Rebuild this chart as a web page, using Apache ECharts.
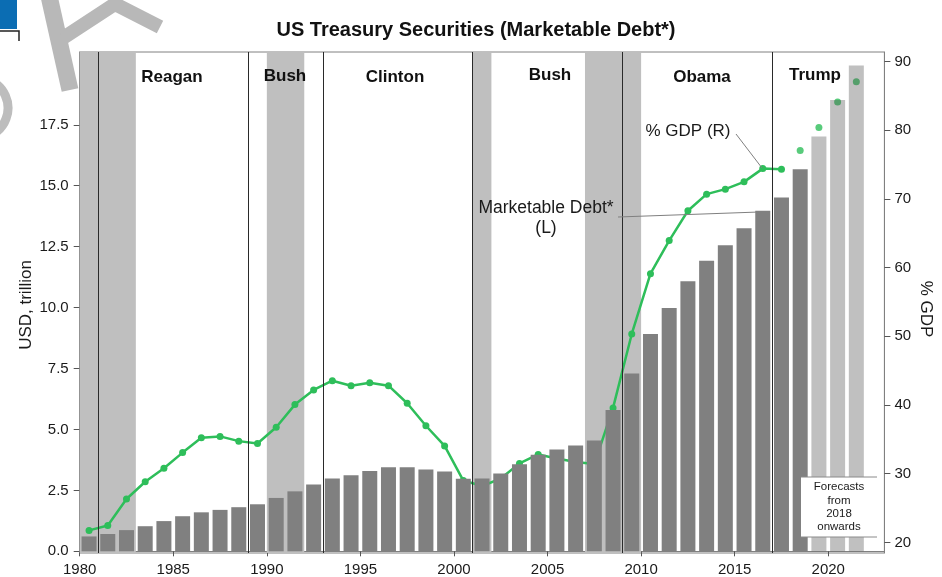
<!DOCTYPE html>
<html>
<head>
<meta charset="utf-8">
<script src="https://cdn.jsdelivr.net/npm/echarts@6/dist/echarts.min.js"></script>
<style>
html,body{margin:0;padding:0;background:#fff;}
#chart{width:942px;height:577px;}
</style>
</head>
<body>
<div id="chart"></div>
<script>
// ---- data ----
const years = [1980,1981,1982,1983,1984,1985,1986,1987,1988,1989,
  1990,1991,1992,1993,1994,1995,1996,1997,1998,1999,
  2000,2001,2002,2003,2004,2005,2006,2007,2008,2009,
  2010,2011,2012,2013,2014,2015,2016,2017,2018,2019,2020,2021];
// Marketable debt, USD trillion (left axis)
const debt = [0.61,0.71,0.87,1.03,1.24,1.44,1.60,1.70,1.81,1.93,
  2.19,2.46,2.74,2.99,3.12,3.30,3.45,3.45,3.36,3.27,
  2.98,2.99,3.19,3.57,3.96,4.18,4.34,4.55,5.80,7.30,
  8.92,9.98,11.08,11.92,12.56,13.25,13.97,14.52,15.67,17.02,18.52,19.93];
const firstForecastBarYear = 2019;
// % GDP (right axis), actual 1980-2017
const pctYears = [1980,1981,1982,1983,1984,1985,1986,1987,1988,1989,
  1990,1991,1992,1993,1994,1995,1996,1997,1998,1999,
  2000,2001,2002,2003,2004,2005,2006,2007,2008,2009,
  2010,2011,2012,2013,2014,2015,2016,2017];
const pctGdp = [21.74,22.46,26.31,28.83,30.80,33.07,35.24,35.43,34.74,34.40,
  36.76,40.06,42.19,43.54,42.81,43.25,42.81,40.26,36.98,34.04,
  29.0,28.2,29.3,31.5,32.8,32.2,31.7,31.4,39.58,50.34,
  59.12,63.94,68.29,70.70,71.43,72.49,74.42,74.32];
// % GDP forecasts
const fcYears = [2018,2019,2020,2021];
const fcPct = [77.07,80.40,84.12,87.06];
// shaded periods and presidency boundaries
const shadedPeriods = [[1980,1983],[1990,1992],[2001,2002],[2007,2010]];
const termStarts = [1981,1989,1993,2001,2009,2017];
const presidents = ['Reagan','Bush','Clinton','Bush','Obama','Trump'];
const xTicks = [1980,1985,1990,1995,2000,2005,2010,2015,2020];
const leftTicks = [0,2.5,5,7.5,10,12.5,15,17.5];
const rightTicks = [20,30,40,50,60,70,80,90];

// ---- chart ----
const FONT = 'Liberation Sans, Arial, sans-serif';
const GREEN = '#2ebe5a';
const chart = echarts.init(document.getElementById('chart'), null, {renderer:'canvas'});

const mid = y => y + 0.5;
const barData = years.map((y,i) => ({
  value:[mid(y), debt[i]],
  itemStyle:{color: y >= firstForecastBarYear ? 'rgba(80,80,80,0.36)' : '#808080'}
}));

const presPos = [[172,77],[285,76],[395,77],[550,75],[702,77],[815,75]];

const option = {
  animation:false,
  backgroundColor:'#fff',
  textStyle:{fontFamily:FONT},
  grid:{left:79.7, right:57.6, top:52, bottom:21, show:true, borderColor:'#808080', borderWidth:1, backgroundColor:'transparent'},
  xAxis:{
    type:'value', min:1980, max:2023,
    axisLine:{show:true, lineStyle:{color:'#808080'}},
    axisTick:{show:true, length:5, lineStyle:{color:'#555'}, customValues:xTicks},
    axisLabel:{fontSize:15, color:'#1a1a1a', margin:9, fontFamily:FONT, customValues:xTicks,
      formatter:v=>String(v)},
    splitLine:{show:false}
  },
  yAxis:[{
    type:'value', min:-0.069, max:20.485, position:'left',
    axisLine:{show:true, lineStyle:{color:'#808080'}},
    axisTick:{show:true, length:6, lineStyle:{color:'#555'}, customValues:leftTicks},
    axisLabel:{fontSize:15, color:'#1a1a1a', margin:11, fontFamily:FONT, customValues:leftTicks,
      formatter:v=>Number(v).toFixed(1)},
    splitLine:{show:false}
  },{
    type:'value', min:18.451, max:91.40, position:'right',
    axisLine:{show:true, lineStyle:{color:'#808080'}},
    axisTick:{show:true, length:6, lineStyle:{color:'#555'}, customValues:rightTicks},
    axisLabel:{fontSize:15, color:'#1a1a1a', margin:10, fontFamily:FONT, customValues:rightTicks,
      formatter:v=>String(Math.round(v))},
    splitLine:{show:false}
  }],
  series:[
    {
      type:'line', data:[], z:1, silent:true,
      markArea:{silent:true, itemStyle:{color:'#bfbfbf'},
        data: shadedPeriods.map(p=>[{xAxis:p[0]},{xAxis:p[1]}])},
      markLine:{silent:true, symbol:['none','none'], label:{show:false},
        lineStyle:{color:'#2a2a2a', width:1, type:'solid'},
        data: termStarts.map(t=>({xAxis:t}))}
    },
    {
      type:'line', yAxisIndex:1, z:2,
      data: pctYears.map((y,i)=>[mid(y), pctGdp[i]]),
      symbol:'circle', symbolSize:7, showSymbol:true,
      lineStyle:{color:GREEN, width:2.5}, itemStyle:{color:GREEN}
    },
    {
      type:'scatter', yAxisIndex:1, z:2,
      data: fcYears.map((y,i)=>[mid(y), fcPct[i]]),
      symbol:'circle', symbolSize:7, itemStyle:{color:GREEN}
    },
    {
      type:'bar', yAxisIndex:0, z:3, barWidth:15,
      data: barData
    }
  ],
  graphic:[
    // watermark fragments top-left
    {type:'rect', shape:{x:0,y:0,width:17,height:29}, style:{fill:'#0b6db3'}, z:100},
    {type:'polyline', shape:{points:[[0,31],[19,31],[19,41]]}, style:{stroke:'#222', lineWidth:1.5, fill:null}, z:100},
    {type:'polyline', shape:{points:[[49,-4],[70,90]]}, style:{stroke:'#b8b8b8', lineWidth:17, fill:null}, z:100},
    {type:'polyline', shape:{points:[[63,38],[115,4],[160,27]]}, style:{stroke:'#b8b8b8', lineWidth:14, fill:null, lineJoin:'miter'}, z:100},
    {type:'arc', shape:{cx:-22, cy:108, r:30, startAngle:-Math.PI/2.6, endAngle:Math.PI/2.6}, style:{stroke:'#bdbdbd', lineWidth:9, fill:null}, z:100},
    // title
    {type:'text', x:476, y:30, style:{text:'US Treasury Securities (Marketable Debt*)', font:'bold 20px '+FONT, fill:'#111', align:'center', verticalAlign:'middle'}, z:100},
    // axis names
    {type:'text', x:26, y:305, rotation:Math.PI/2, style:{text:'USD, trillion', font:'17px '+FONT, fill:'#1a1a1a', align:'center', verticalAlign:'middle'}, z:100},
    {type:'text', x:926, y:309, rotation:-Math.PI/2, style:{text:'% GDP', font:'17px '+FONT, fill:'#1a1a1a', align:'center', verticalAlign:'middle'}, z:100},
    // presidents
    ...presidents.map((n,i)=>({type:'text', x:presPos[i][0], y:presPos[i][1], style:{text:n, font:'bold 17px '+FONT, fill:'#111', align:'center', verticalAlign:'middle'}, z:100})),
    // annotations
    {type:'text', x:688, y:131, style:{text:'% GDP (R)', font:'17px '+FONT, fill:'#1a1a1a', align:'center', verticalAlign:'middle'}, z:100},
    {type:'line', shape:{x1:736,y1:134,x2:762,y2:168}, style:{stroke:'#808080', lineWidth:1}, z:100},
    {type:'text', x:546, y:208, style:{text:'Marketable Debt*', font:'17.5px '+FONT, fill:'#1a1a1a', align:'center', verticalAlign:'middle'}, z:100},
    {type:'text', x:546, y:228, style:{text:'(L)', font:'17.5px '+FONT, fill:'#1a1a1a', align:'center', verticalAlign:'middle'}, z:100},
    {type:'line', shape:{x1:618,y1:217,x2:759,y2:212}, style:{stroke:'#808080', lineWidth:1}, z:100},
    // forecast box
    {type:'rect', shape:{x:801,y:477,width:76,height:60}, style:{fill:'#fff'}, z:100},
    {type:'line', shape:{x1:801,y1:477,x2:877,y2:477}, style:{stroke:'#8a8a8a', lineWidth:1}, z:101},
    {type:'line', shape:{x1:801,y1:537,x2:877,y2:537}, style:{stroke:'#8a8a8a', lineWidth:1}, z:101},
    {type:'text', x:839, y:507, style:{text:'Forecasts\nfrom\n2018\nonwards', font:'11.5px '+FONT, lineHeight:13.3, fill:'#1a1a1a', align:'center', verticalAlign:'middle'}, z:101}
  ]
};
chart.setOption(option);
</script>
</body>
</html>
